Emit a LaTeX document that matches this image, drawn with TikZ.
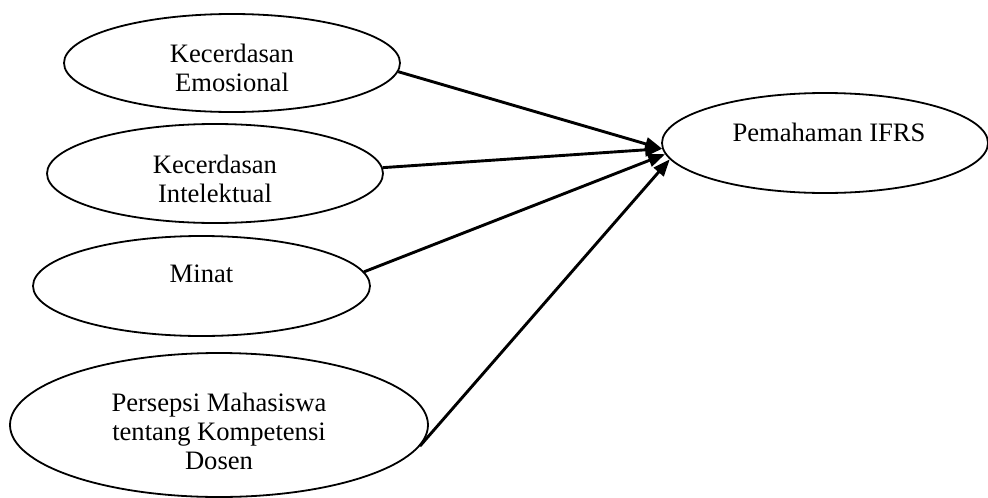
\documentclass[tikz,border=0pt]{standalone}
\usepackage{fontspec}
\setmainfont{Liberation Serif}
\usetikzlibrary{shapes.geometric,arrows.meta}
\begin{document}
\begin{tikzpicture}[x=1pt,y=-1pt,
  oval/.style={ellipse,draw,line width=1.8pt,inner sep=0pt},
  lbl/.style={align=center,inner sep=0pt,font=\fontsize{26.6}{29}\selectfont},
  link/.style={line width=2.9pt,-{Triangle[length=17pt,width=13pt]}}]
\useasboundingbox (0,0) rectangle (988,498);
\node[oval,minimum width=336pt,minimum height=98pt] (e1) at (232,63) {};
\node[oval,minimum width=336pt,minimum height=99pt] (e2) at (215,173.5) {};
\node[oval,minimum width=337pt,minimum height=100pt] (e3) at (201.5,286) {};
\node[oval,minimum width=418pt,minimum height=144pt] (e4) at (219,425) {};
\node[oval,minimum width=326pt,minimum height=100pt] (t) at (825,143) {};
\node[lbl] (e1t) at (232,68) {Kecerdasan\\Emosional};
\node[lbl] (e2t) at (215,178.5) {Kecerdasan\\Intelektual};
\node[lbl] (e3t) at (201.5,274) {Minat};
\node[lbl] (e4t) at (219,431) {Persepsi Mahasiswa\\tentang Kompetensi\\Dosen};
\node[lbl] (tt) at (829,132) {Pemahaman IFRS};
\draw[link] (e1.-3) -- (t.182);
\draw[link] (e2.2) -- (t.182);
\draw[link] (e3.5) -- (t.184);
\draw[link] (e4.-6) -- (t.186);
\end{tikzpicture}
\end{document}
